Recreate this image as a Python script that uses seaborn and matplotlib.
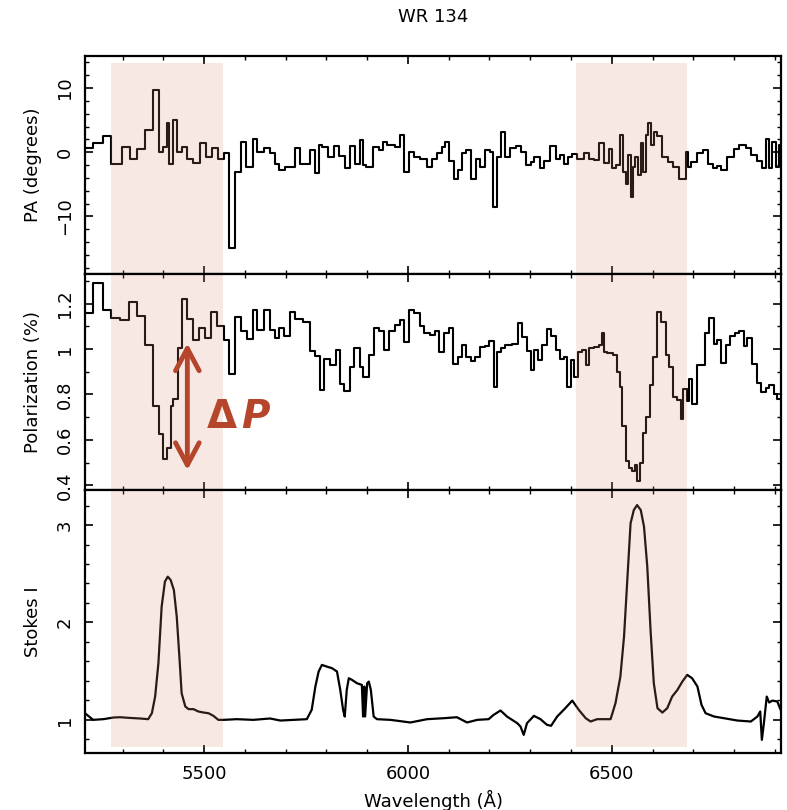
import numpy as np
import pandas as pd
import matplotlib.pyplot as plt
import seaborn as sns
from matplotlib.ticker import MultipleLocator, FuncFormatter

# position angle, binned (bin edges in Angstrom, one value per bin)
pa_edges = [5208, 5228, 5253, 5273, 5298, 5318, 5335, 5355, 5374, 5390, 5400, 5408, 5415, 5423,
            5433, 5445, 5458, 5474, 5489, 5505, 5519, 5533, 5548, 5562, 5576, 5590, 5603, 5620,
            5631, 5646, 5661, 5674, 5685, 5699, 5724, 5736, 5760, 5773, 5781, 5789, 5805, 5818,
            5832, 5846, 5859, 5871, 5882, 5890, 5898, 5914, 5928, 5939, 5949, 5969, 5981, 5990,
            6002, 6014, 6030, 6047, 6059, 6071, 6084, 6092, 6100, 6112, 6122, 6133, 6143, 6155,
            6167, 6176, 6190, 6201, 6209, 6219, 6229, 6239, 6251, 6266, 6278, 6290, 6301, 6310,
            6323, 6333, 6348, 6362, 6373, 6382, 6392, 6403, 6415, 6431, 6444, 6456, 6468, 6481,
            6493, 6501, 6511, 6520, 6528, 6534, 6540, 6546, 6553, 6558, 6564, 6571, 6576, 6583,
            6589, 6595, 6603, 6612, 6624, 6638, 6651, 6665, 6681, 6687, 6695, 6710, 6724, 6736,
            6747, 6759, 6769, 6783, 6800, 6812, 6828, 6842, 6855, 6869, 6877, 6886, 6894, 6902,
            6910, 6916]
pa_vals = [0.6, 1.5, 2.5, -1.8, 0.8, -1.1, 0.5, 3.4, 9.7, 0.0, 0.8, 4.5, -1.8, 5.0,
           0.0, 0.8, -1.1, -1.7, 1.4, -0.8, 0.7, -1.0, -0.2, -15.0, -3.1, 1.6, -2.3, 2.1,
           0.0, 0.7, -0.2, -1.8, -2.8, -2.3, 0.7, -1.8, 0.3, -3.3, 1.2, 0.8, -0.8, 1.0,
           -0.6, -2.5, 1.0, -1.8, 1.9, -2.0, -2.3, 0.8, 0.3, 1.6, 1.2, 0.8, 2.7, -3.1,
           0.0, -0.7, -1.0, -2.3, -1.0, -0.2, 0.8, 1.6, -1.3, -4.1, -2.8, -0.2, 0.4, -4.1,
           -1.0, -2.3, 0.3, 0.0, -8.5, -0.7, 3.2, -0.7, 0.7, 1.0, 0.0, -2.0, -1.5, -0.7,
           -2.5, -1.3, 1.0, -1.0, -0.5, -1.8, -0.7, -0.3, -1.0, -0.2, -1.0, -1.2, 1.4, -1.7,
           0.5, -2.5, -2.0, 2.7, -3.1, -4.9, -0.5, -7.0, -2.3, -0.7, -3.6, 1.4, -3.1, 2.7,
           4.6, 1.2, 3.2, 2.5, -0.7, -1.5, -2.3, -4.1, 0.0, -2.3, -1.5, -0.2, 0.3, -1.8,
           -2.5, -2.1, -2.8, -0.7, 0.5, 1.2, 0.7, -0.5, -1.3, -2.5, 2.1, -2.5, 1.6, -2.3,
           1.2]

# polarization (%), binned
pol_edges = [5208, 5228, 5253, 5273, 5294, 5317, 5336, 5354, 5374, 5390, 5400, 5410, 5418, 5425,
             5435, 5445, 5458, 5474, 5488, 5503, 5517, 5531, 5549, 5562, 5576, 5590, 5605, 5620,
             5631, 5646, 5661, 5674, 5685, 5697, 5710, 5724, 5742, 5760, 5773, 5785, 5793, 5808,
             5824, 5834, 5842, 5859, 5868, 5882, 5891, 5904, 5916, 5928, 5942, 5953, 5969, 5980,
             5991, 6002, 6014, 6029, 6039, 6053, 6067, 6075, 6088, 6100, 6111, 6122, 6133, 6143,
             6155, 6165, 6176, 6188, 6198, 6211, 6219, 6229, 6239, 6256, 6269, 6280, 6292, 6302,
             6310, 6319, 6329, 6340, 6351, 6362, 6373, 6382, 6391, 6400, 6407, 6417, 6427, 6436,
             6444, 6456, 6468, 6476, 6482, 6489, 6503, 6512, 6520, 6526, 6534, 6542, 6550, 6556,
             6561, 6569, 6577, 6585, 6594, 6602, 6610, 6620, 6632, 6640, 6651, 6661, 6669, 6675,
             6684, 6689, 6697, 6710, 6728, 6738, 6751, 6759, 6769, 6779, 6790, 6801, 6812, 6824,
             6832, 6845, 6855, 6865, 6877, 6886, 6898, 6906, 6915]
pol_vals = [1.16, 1.289, 1.173, 1.136, 1.129, 1.206, 1.144, 1.018, 0.751, 0.625, 0.517, 0.566, 0.751,
            0.781, 1.003, 1.218, 1.132, 1.040, 1.092, 1.047, 1.161, 1.102, 1.040, 0.889, 1.141, 1.077,
            1.043, 1.170, 1.084, 1.173, 1.084, 1.047, 1.092, 1.055, 1.161, 1.132, 1.117, 0.991, 0.969,
            0.821, 0.954, 0.929, 0.995, 0.847, 0.815, 0.921, 1.003, 0.921, 0.877, 0.973, 1.092, 1.077,
            0.995, 1.081, 1.107, 1.129, 1.032, 1.173, 1.158, 1.099, 1.070, 1.062, 1.077, 0.988, 1.070,
            1.092, 0.936, 0.963, 1.018, 0.966, 0.948, 0.963, 1.007, 1.013, 1.037, 0.832, 0.988, 1.003,
            1.018, 1.022, 1.114, 1.052, 0.992, 0.907, 0.995, 0.951, 1.018, 1.087, 1.055, 0.995, 0.954,
            0.963, 0.835, 0.951, 0.877, 0.988, 0.995, 0.929, 1.003, 1.010, 1.018, 1.070, 0.988, 0.984,
            0.973, 0.899, 0.832, 0.662, 0.507, 0.477, 0.462, 0.489, 0.418, 0.500, 0.632, 0.699, 0.840,
            0.966, 1.161, 1.117, 0.973, 0.921, 0.791, 0.776, 0.692, 0.825, 0.773, 0.870, 0.758, 0.929,
            1.072, 1.136, 1.022, 1.040, 0.939, 1.018, 1.055, 1.070, 1.081, 1.013, 1.047, 0.933, 0.850,
            0.810, 0.830, 0.840, 0.803, 0.780]

# normalised flux
flux_wave = [5208, 5228, 5253, 5278, 5294, 5318, 5343, 5363, 5372, 5380, 5388, 5396, 5404, 5411,
             5418, 5426, 5433, 5440, 5445, 5454, 5462, 5474, 5486, 5499, 5511, 5523, 5535, 5548,
             5580, 5621, 5662, 5687, 5720, 5752, 5764, 5773, 5781, 5789, 5801, 5814, 5826, 5834,
             5841, 5845, 5850, 5855, 5863, 5875, 5887, 5890, 5893, 5895, 5900, 5904, 5909, 5916,
             5924, 5957, 6006, 6047, 6088, 6120, 6145, 6170, 6198, 6210, 6227, 6243, 6268, 6276,
             6284, 6292, 6309, 6325, 6341, 6351, 6366, 6386, 6403, 6419, 6436, 6448, 6464, 6497,
             6509, 6521, 6530, 6538, 6546, 6554, 6562, 6571, 6579, 6587, 6595, 6603, 6612, 6624,
             6636, 6648, 6661, 6673, 6685, 6697, 6710, 6720, 6730, 6751, 6775, 6808, 6841, 6857,
             6864, 6868, 6873, 6880, 6886, 6894, 6906, 6914]
flux_vals = [1.068, 1.0, 1.007, 1.024, 1.027, 1.020, 1.014, 1.007, 1.068, 1.239, 1.581, 2.162,
             2.419, 2.470, 2.436, 2.333, 2.060, 1.615, 1.273, 1.137, 1.110, 1.110, 1.086, 1.075,
             1.068, 1.041, 1.0, 1.0, 1.007, 1.0, 1.014, 0.993, 1.0, 1.007, 1.103, 1.342, 1.496,
             1.564, 1.547, 1.530, 1.496, 1.308, 1.103, 1.034, 1.308, 1.427, 1.410, 1.376, 1.359,
             1.034, 1.342, 1.034, 1.376, 1.393, 1.308, 1.034, 1.007, 1.0, 0.973, 1.007, 1.017,
             1.027, 0.973, 1.0, 1.007, 1.051, 1.096, 1.034, 0.966, 0.932, 0.846, 0.966, 1.041,
             1.007, 0.949, 0.939, 1.034, 1.120, 1.198, 1.103, 1.017, 0.983, 1.007, 1.007, 1.171,
             1.444, 1.855, 2.436, 3.017, 3.154, 3.205, 3.154, 2.983, 2.573, 1.923, 1.376, 1.120,
             1.075, 1.120, 1.239, 1.308, 1.393, 1.462, 1.427, 1.342, 1.154, 1.068, 1.034, 1.017,
             0.993, 0.983, 1.034, 1.086, 0.795, 0.966, 1.239, 1.178, 1.198, 1.188, 1.103]

regions = [(5272, 5546), (6411, 6685)]

sns.set_style("ticks")
plt.rcParams['font.family'] = ['DejaVu Sans']
plt.rcParams.update({
    'xtick.direction': 'in', 'ytick.direction': 'in',
    'xtick.top': True, 'ytick.right': True,
    'xtick.major.size': 6, 'ytick.major.size': 6,
    'xtick.minor.size': 3, 'ytick.minor.size': 3,
    'xtick.major.width': 1.2, 'ytick.major.width': 1.2,
    'xtick.minor.width': 1.0, 'ytick.minor.width': 1.0,
    'axes.linewidth': 1.6,
    'axes.edgecolor': 'black', 'text.color': 'black', 'axes.labelcolor': 'black',
    'xtick.color': 'black', 'ytick.color': 'black',
})

fig = plt.figure(figsize=(7.87, 8.10), dpi=100)
ax1 = fig.add_axes([0.108, 0.6617, 0.8844, 0.2691])
ax2 = fig.add_axes([0.108, 0.3951, 0.8844, 0.2667])
ax3 = fig.add_axes([0.108, 0.0704, 0.8844, 0.3247])

shade = dict(color=(0.86, 0.55, 0.47), alpha=0.2, lw=0, zorder=2.2)

pa_df = pd.DataFrame({'wave': pa_edges, 'pa': pa_vals + [pa_vals[-1]]})
pol_df = pd.DataFrame({'wave': pol_edges, 'pol': pol_vals + [pol_vals[-1]]})
flux_df = pd.DataFrame({'wave': flux_wave, 'flux': flux_vals})

sns.lineplot(data=pa_df, x='wave', y='pa', ax=ax1, color='black', lw=1.5,
             drawstyle='steps-post', estimator=None, sort=False)
sns.lineplot(data=pol_df, x='wave', y='pol', ax=ax2, color='black', lw=1.5,
             drawstyle='steps-post', estimator=None, sort=False)
sns.lineplot(data=flux_df, x='wave', y='flux', ax=ax3, color='black', lw=1.6,
             estimator=None, sort=False)

for lo, hi in regions:
    ax1.axvspan(lo, hi, ymin=0, ymax=0.968, **shade)
    ax2.axvspan(lo, hi, **shade)
    ax3.axvspan(lo, hi, ymin=0.023, ymax=1, **shade)

fmt = FuncFormatter(lambda v, p: f"{v:g}".replace('-', '\u2212'))
for ax in (ax1, ax2, ax3):
    ax.set_xlim(5208, 6915)
    ax.xaxis.set_major_locator(MultipleLocator(500))
    ax.xaxis.set_minor_locator(MultipleLocator(100))
    ax.tick_params(which='both', top=True, right=True)
    ax.tick_params(axis='y', labelrotation=90, labelsize=13, pad=8)
    ax.tick_params(axis='x', labelsize=13, pad=9)
    ax.yaxis.set_major_formatter(fmt)
    ax.set_xlabel('')

ax1.set_ylim(-19, 15)
ax1.yaxis.set_major_locator(MultipleLocator(10))
ax1.yaxis.set_minor_locator(MultipleLocator(2))
ax1.set_ylabel('PA (degrees)', fontsize=13)

ax2.set_ylim(0.38, 1.33)
ax2.yaxis.set_major_locator(MultipleLocator(0.2))
ax2.yaxis.set_minor_locator(MultipleLocator(0.1))
ax2.set_ylabel('Polarization (%)', fontsize=13)

ax3.set_ylim(0.66, 3.36)
ax3.yaxis.set_major_locator(MultipleLocator(1))
ax3.yaxis.set_minor_locator(MultipleLocator(0.2))
ax3.set_ylabel('Stokes I', fontsize=13)
ax3.set_xlabel('Wavelength (\u00c5)', fontsize=13, labelpad=5)

ax1.tick_params(axis='x', labelbottom=False)
ax2.tick_params(axis='x', labelbottom=False)

for ax in (ax1, ax2, ax3):
    ax.yaxis.set_label_coords(-0.062, 0.5)
    for lab in ax.get_yticklabels():
        lab.set_va('center')

# delta P annotation
red = '#B5462B'
ax2.annotate('', xy=(5459, 0.467), xytext=(5459, 1.025),
             arrowprops=dict(arrowstyle='<->, head_length=1.6, head_width=0.85',
                             lw=3.5, color=red, shrinkA=0, shrinkB=0, mutation_scale=10))
ax2.text(5506, 0.70, '\u0394', color=red, fontsize=28, fontweight='bold', ha='left', va='center')
ax2.text(5592, 0.70, 'P', color=red, fontsize=28, fontweight='bold', fontstyle='italic',
         ha='left', va='center')

fig.text(0.55, 0.979, 'WR 134', ha='center', va='center', fontsize=13)

fig.savefig('out.png', dpi=100)
